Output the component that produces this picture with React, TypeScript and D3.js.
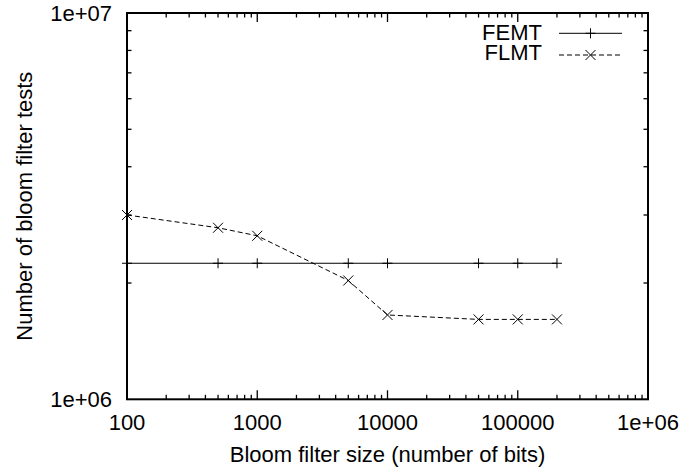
import React from "react";
import * as d3 from "d3";

const sizes = [100, 500, 1000, 5000, 10000, 50000, 100000, 200000];
const femt = [2.25e6, 2.25e6, 2.25e6, 2.25e6, 2.25e6, 2.25e6, 2.25e6, 2.25e6];
const flmt = [3.0e6, 2.78e6, 2.65e6, 2.03e6, 1.653e6, 1.61e6, 1.61e6, 1.61e6];
const xTickValues = [100, 1000, 10000, 100000, 1000000];
const xTickLabels = ["100", "1000", "10000", "100000", "1e+06"];
const yTickValues = [1e6, 1e7];
const yTickLabels = ["1e+06", "1e+07"];
const seriesNames = ["FEMT", "FLMT"];

const W = 700;
const H = 467;
const L = 127;
const R = 648;
const T = 13;
const B = 399.3;
const FONT = "'Liberation Sans', Arial, Helvetica, sans-serif";
const FS = 22;

export default function App() {
  const x = d3.scaleLog().domain([100, 1e6]).range([L, R]);
  const y = d3.scaleLog().domain([1e6, 1e7]).range([B, T]);

  const xMinor: number[] = [];
  for (let d = 100; d < 1e6; d *= 10) for (let k = 2; k <= 9; k++) xMinor.push(d * k);
  const yMinor: number[] = [];
  for (let k = 2; k <= 9; k++) yMinor.push(1e6 * k);

  const line = d3
    .line<number>()
    .x((_, i) => x(sizes[i]))
    .y((v) => y(v));

  const plus = (cx: number, cy: number, s = 5) => `M${cx - s},${cy}H${cx + s}M${cx},${cy - s}V${cy + s}`;
  const cross = (cx: number, cy: number, s = 5) =>
    `M${cx - s},${cy - s}L${cx + s},${cy + s}M${cx - s},${cy + s}L${cx + s},${cy - s}`;

  const majLen = 9;
  const minLen = 4.5;

  const legX1 = 559;
  const legX2 = 622;
  const legMid = (legX1 + legX2) / 2;
  const legY = [33.3, 55];
  const legBase = [40, 59.5];

  return (
    <svg width={W} height={H} style={{ position: "absolute", left: 0, top: 0, background: "#fff" }} fontFamily={FONT}>
      <rect width={W} height={H} fill="#fff" />
      {/* ticks */}
      <g stroke="#000" strokeWidth={1.3}>
        {xTickValues.map((v) => (
          <g key={"xm" + v}>
            <line x1={x(v)} x2={x(v)} y1={B} y2={B - majLen} />
            <line x1={x(v)} x2={x(v)} y1={T} y2={T + majLen} />
          </g>
        ))}
        {xMinor.map((v) => (
          <g key={"xn" + v}>
            <line x1={x(v)} x2={x(v)} y1={B} y2={B - minLen} />
            <line x1={x(v)} x2={x(v)} y1={T} y2={T + minLen} />
          </g>
        ))}
        {yMinor.map((v) => (
          <g key={"yn" + v}>
            <line x1={L} x2={L + minLen} y1={y(v)} y2={y(v)} />
            <line x1={R} x2={R - minLen} y1={y(v)} y2={y(v)} />
          </g>
        ))}
      </g>
      {/* data */}
      <path d={line(femt) || ""} fill="none" stroke="#000" strokeWidth={1} />
      <path d={line(flmt) || ""} fill="none" stroke="#000" strokeWidth={1} strokeDasharray="5,3" />
      <g stroke="#000" strokeWidth={1} fill="none">
        {femt.map((v, i) => (
          <path key={"p" + i} d={plus(x(sizes[i]), y(v))} />
        ))}
        {flmt.map((v, i) => (
          <path key={"c" + i} d={cross(x(sizes[i]), y(v))} />
        ))}
      </g>
      {/* border */}
      <rect x={L} y={T} width={R - L} height={B - T} fill="none" stroke="#000" strokeWidth={2} />
      {/* tick labels */}
      <g fontSize={FS} fill="#000">
        {xTickValues.map((v, i) => (
          <text key={"xl" + v} x={x(v)} y={430} textAnchor="middle">
            {xTickLabels[i]}
          </text>
        ))}
        {yTickValues.map((v, i) => (
          <text key={"yl" + v} x={112} y={y(v) + 8} textAnchor="end">
            {yTickLabels[i]}
          </text>
        ))}
      </g>
      {/* axis titles */}
      <text x={(L + R) / 2} y={462} textAnchor="middle" fontSize={FS}>
        Bloom filter size (number of bits)
      </text>
      <text transform={`translate(31.5, ${(T + B) / 2}) rotate(-90)`} textAnchor="middle" fontSize={FS}>
        Number of bloom filter tests
      </text>
      {/* legend */}
      <g fontSize={FS}>
        {seriesNames.map((n, i) => (
          <text key={n} x={542} y={legBase[i]} textAnchor="end">
            {n}
          </text>
        ))}
      </g>
      <line x1={legX1} x2={legX2} y1={legY[0]} y2={legY[0]} stroke="#000" strokeWidth={1} />
      <path d={plus(legMid, legY[0])} stroke="#000" strokeWidth={1} />
      <line x1={legX1} x2={legX2} y1={legY[1]} y2={legY[1]} stroke="#000" strokeWidth={1} strokeDasharray="5,3" />
      <path d={cross(legMid, legY[1])} stroke="#000" strokeWidth={1} />
    </svg>
  );
}
